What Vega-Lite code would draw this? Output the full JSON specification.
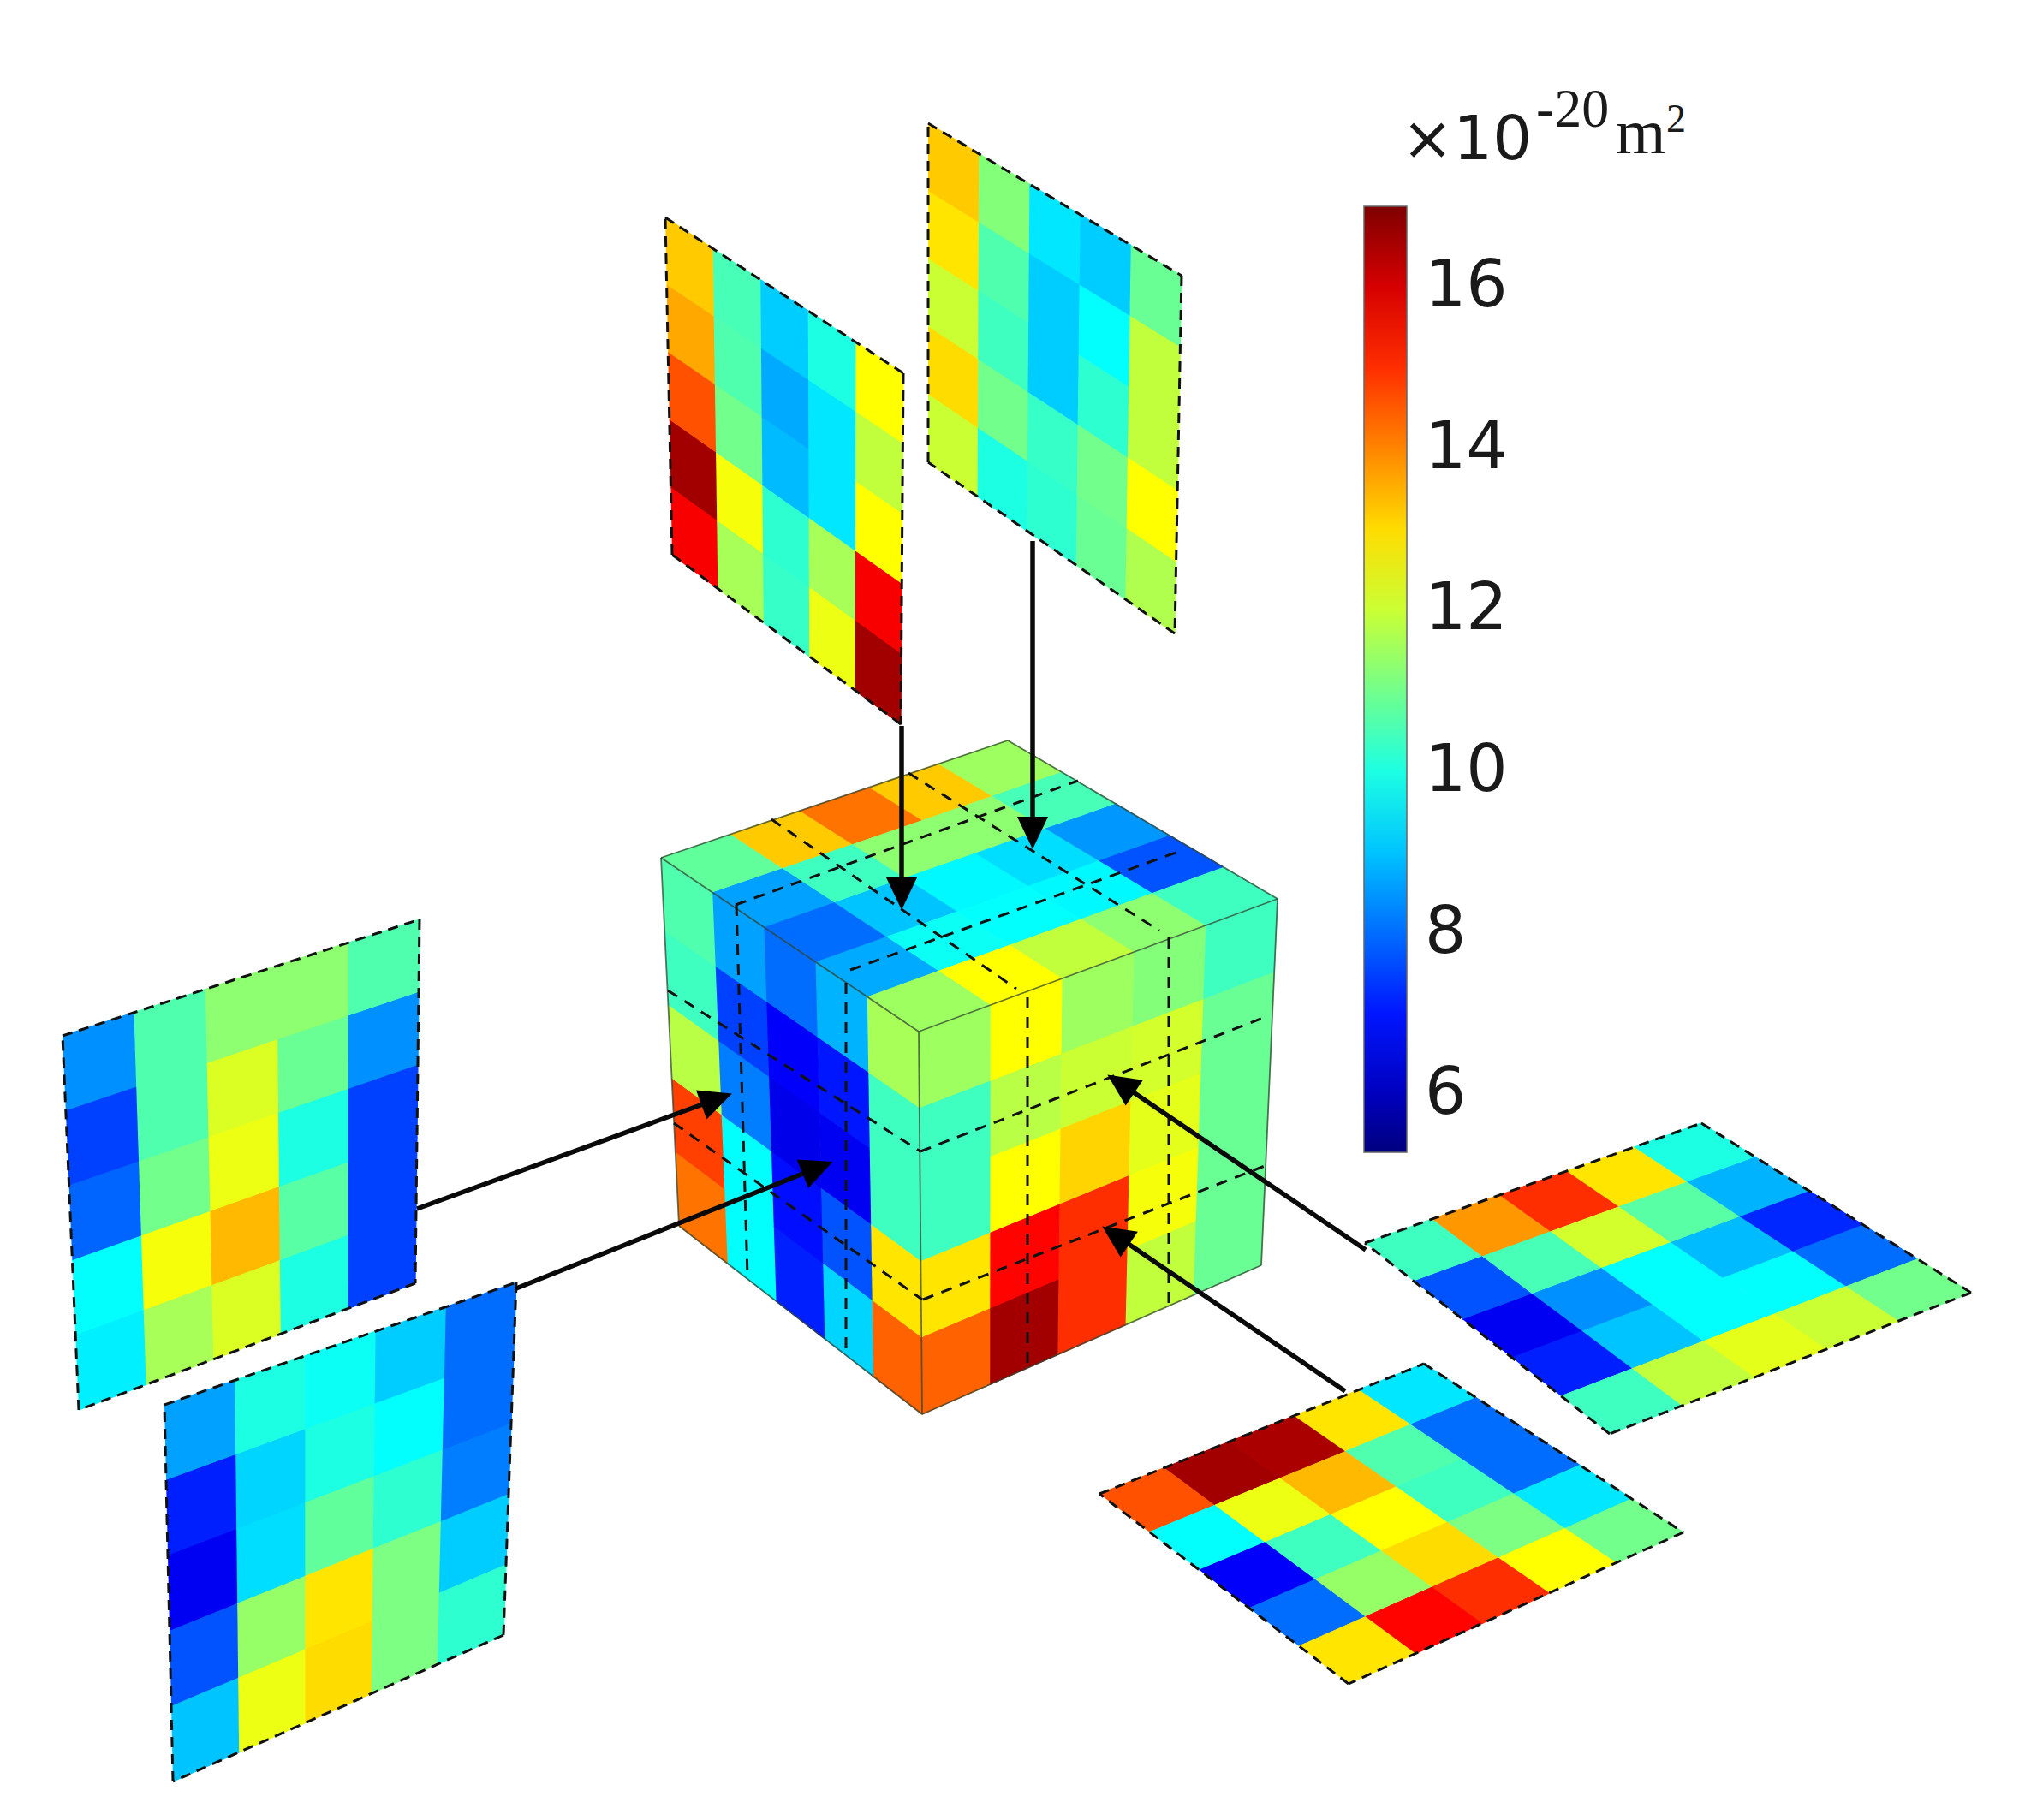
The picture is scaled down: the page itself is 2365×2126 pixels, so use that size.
{"$schema":"https://vega.github.io/schema/vega-lite/v6.json","width":2365,"height":2126,"padding":0,"autosize":{"type":"fit","contains":"padding"},"background":"white","config":{"view":{"stroke":null}},
"datasets":{
"panels":[
{"p":"T1","ax":777,"ay":254,"bx":1055,"by":436,"cx":1052,"cy":846,"dx":785,"dy":648},
{"p":"T2","ax":1084,"ay":144,"bx":1380,"by":322,"cx":1372,"cy":740,"dx":1084,"dy":540},
{"p":"L1","ax":73,"ay":1210,"bx":490,"by":1074,"cx":485,"cy":1499,"dx":92,"dy":1647},
{"p":"L2","ax":192,"ay":1641,"bx":603,"by":1498,"cx":588,"cy":1910,"dx":202,"dy":2081},
{"p":"R1","ax":1594,"ay":1452,"bx":1987,"by":1312,"cx":2302,"cy":1510,"dx":1880,"dy":1675},
{"p":"R2","ax":1284,"ay":1745,"bx":1663,"by":1593,"cx":1966,"cy":1790,"dx":1575,"dy":1967},
{"p":"CT","ax":772,"ay":1002,"bx":1177,"by":865,"cx":1492,"cy":1050,"dx":1073,"dy":1205},
{"p":"CL","ax":772,"ay":1002,"bx":1073,"by":1205,"cx":1077,"cy":1652,"dx":793,"dy":1432},
{"p":"CR","ax":1073,"ay":1205,"bx":1492,"by":1050,"cx":1473,"cy":1478,"dx":1077,"dy":1652}
],
"cells":[
{"p":"T1","i":0,"j":0,"v":13.2},{"p":"T1","i":0,"j":1,"v":13.6},{"p":"T1","i":0,"j":2,"v":14.6},{"p":"T1","i":0,"j":3,"v":16.6},{"p":"T1","i":0,"j":4,"v":15.6},
{"p":"T1","i":1,"j":0,"v":10.5},{"p":"T1","i":1,"j":1,"v":10.6},{"p":"T1","i":1,"j":2,"v":11},{"p":"T1","i":1,"j":3,"v":12.5},{"p":"T1","i":1,"j":4,"v":11.6},
{"p":"T1","i":2,"j":0,"v":9.1},{"p":"T1","i":2,"j":1,"v":8.7},{"p":"T1","i":2,"j":2,"v":8.9},{"p":"T1","i":2,"j":3,"v":10.2},{"p":"T1","i":2,"j":4,"v":10.3},
{"p":"T1","i":3,"j":0,"v":10},{"p":"T1","i":3,"j":1,"v":9.4},{"p":"T1","i":3,"j":2,"v":9.4},{"p":"T1","i":3,"j":3,"v":11.6},{"p":"T1","i":3,"j":4,"v":12.4},
{"p":"T1","i":4,"j":0,"v":12.6},{"p":"T1","i":4,"j":1,"v":11.9},{"p":"T1","i":4,"j":2,"v":12.6},{"p":"T1","i":4,"j":3,"v":15.6},{"p":"T1","i":4,"j":4,"v":16.6},
{"p":"T2","i":0,"j":0,"v":13.2},{"p":"T2","i":0,"j":1,"v":12.9},{"p":"T2","i":0,"j":2,"v":12},{"p":"T2","i":0,"j":3,"v":13},{"p":"T2","i":0,"j":4,"v":12},
{"p":"T2","i":1,"j":0,"v":11.2},{"p":"T2","i":1,"j":1,"v":10.6},{"p":"T2","i":1,"j":2,"v":10.4},{"p":"T2","i":1,"j":3,"v":11},{"p":"T2","i":1,"j":4,"v":10},
{"p":"T2","i":2,"j":0,"v":9.4},{"p":"T2","i":2,"j":1,"v":9.1},{"p":"T2","i":2,"j":2,"v":9.1},{"p":"T2","i":2,"j":3,"v":10.3},{"p":"T2","i":2,"j":4,"v":10.2},
{"p":"T2","i":3,"j":0,"v":9.1},{"p":"T2","i":3,"j":1,"v":9.7},{"p":"T2","i":3,"j":2,"v":10.2},{"p":"T2","i":3,"j":3,"v":11},{"p":"T2","i":3,"j":4,"v":10.9},
{"p":"T2","i":4,"j":0,"v":10.9},{"p":"T2","i":4,"j":1,"v":11.9},{"p":"T2","i":4,"j":2,"v":11.9},{"p":"T2","i":4,"j":3,"v":12.6},{"p":"T2","i":4,"j":4,"v":11.7},
{"p":"L1","i":0,"j":0,"v":8.4},{"p":"L1","i":0,"j":1,"v":7.5},{"p":"L1","i":0,"j":2,"v":7.9},{"p":"L1","i":0,"j":3,"v":9.7},{"p":"L1","i":0,"j":4,"v":9.5},
{"p":"L1","i":1,"j":0,"v":10.6},{"p":"L1","i":1,"j":1,"v":10.6},{"p":"L1","i":1,"j":2,"v":11},{"p":"L1","i":1,"j":3,"v":12.5},{"p":"L1","i":1,"j":4,"v":11.6},
{"p":"L1","i":2,"j":0,"v":11.3},{"p":"L1","i":2,"j":1,"v":12.2},{"p":"L1","i":2,"j":2,"v":12.4},{"p":"L1","i":2,"j":3,"v":13.4},{"p":"L1","i":2,"j":4,"v":12.2},
{"p":"L1","i":3,"j":0,"v":11.3},{"p":"L1","i":3,"j":1,"v":10.9},{"p":"L1","i":3,"j":2,"v":10},{"p":"L1","i":3,"j":3,"v":10.7},{"p":"L1","i":3,"j":4,"v":10},
{"p":"L1","i":4,"j":0,"v":10.6},{"p":"L1","i":4,"j":1,"v":8.4},{"p":"L1","i":4,"j":2,"v":7.5},{"p":"L1","i":4,"j":3,"v":7.5},{"p":"L1","i":4,"j":4,"v":7.5},
{"p":"L2","i":0,"j":0,"v":8.6},{"p":"L2","i":0,"j":1,"v":7.1},{"p":"L2","i":0,"j":2,"v":6.6},{"p":"L2","i":0,"j":3,"v":7.7},{"p":"L2","i":0,"j":4,"v":9},
{"p":"L2","i":1,"j":0,"v":10},{"p":"L2","i":1,"j":1,"v":9.2},{"p":"L2","i":1,"j":2,"v":9.3},{"p":"L2","i":1,"j":3,"v":11.4},{"p":"L2","i":1,"j":4,"v":12.4},
{"p":"L2","i":2,"j":0,"v":9.8},{"p":"L2","i":2,"j":1,"v":10},{"p":"L2","i":2,"j":2,"v":10.8},{"p":"L2","i":2,"j":3,"v":12.9},{"p":"L2","i":2,"j":4,"v":13},
{"p":"L2","i":3,"j":0,"v":9.1},{"p":"L2","i":3,"j":1,"v":9.7},{"p":"L2","i":3,"j":2,"v":10.2},{"p":"L2","i":3,"j":3,"v":11.1},{"p":"L2","i":3,"j":4,"v":11.1},
{"p":"L2","i":4,"j":0,"v":8},{"p":"L2","i":4,"j":1,"v":8},{"p":"L2","i":4,"j":2,"v":8.2},{"p":"L2","i":4,"j":3,"v":9.1},{"p":"L2","i":4,"j":4,"v":10.2},
{"p":"R1","i":0,"j":0,"v":10.4},{"p":"R1","i":1,"j":0,"v":13.8},{"p":"R1","i":2,"j":0,"v":15},{"p":"R1","i":3,"j":0,"v":12.9},{"p":"R1","i":4,"j":0,"v":10},
{"p":"R1","i":0,"j":1,"v":7.7},{"p":"R1","i":1,"j":1,"v":10.5},{"p":"R1","i":2,"j":1,"v":12.1},{"p":"R1","i":3,"j":1,"v":10.7},{"p":"R1","i":4,"j":1,"v":8.8},
{"p":"R1","i":0,"j":2,"v":6.6},{"p":"R1","i":1,"j":2,"v":8.4},{"p":"R1","i":2,"j":2,"v":9.7},{"p":"R1","i":3,"j":2,"v":8.9},{"p":"R1","i":4,"j":2,"v":7.2},
{"p":"R1","i":0,"j":3,"v":7.1},{"p":"R1","i":1,"j":3,"v":9},{"p":"R1","i":2,"j":3,"v":9.7},{"p":"R1","i":3,"j":3,"v":9.7},{"p":"R1","i":4,"j":3,"v":8},
{"p":"R1","i":0,"j":4,"v":10.4},{"p":"R1","i":1,"j":4,"v":11.9},{"p":"R1","i":2,"j":4,"v":12.3},{"p":"R1","i":3,"j":4,"v":12},{"p":"R1","i":4,"j":4,"v":11},
{"p":"R2","i":0,"j":0,"v":14.6},{"p":"R2","i":1,"j":0,"v":16.6},{"p":"R2","i":2,"j":0,"v":16.5},{"p":"R2","i":3,"j":0,"v":12.9},{"p":"R2","i":4,"j":0,"v":9.4},
{"p":"R2","i":0,"j":1,"v":9.7},{"p":"R2","i":1,"j":1,"v":12.4},{"p":"R2","i":2,"j":1,"v":13.4},{"p":"R2","i":3,"j":1,"v":10.6},{"p":"R2","i":4,"j":1,"v":8},
{"p":"R2","i":0,"j":2,"v":6.7},{"p":"R2","i":1,"j":2,"v":10.4},{"p":"R2","i":2,"j":2,"v":12.6},{"p":"R2","i":3,"j":2,"v":10.4},{"p":"R2","i":4,"j":2,"v":8},
{"p":"R2","i":0,"j":3,"v":8},{"p":"R2","i":1,"j":3,"v":11.4},{"p":"R2","i":2,"j":3,"v":13},{"p":"R2","i":3,"j":3,"v":11.1},{"p":"R2","i":4,"j":3,"v":9.4},
{"p":"R2","i":0,"j":4,"v":12.9},{"p":"R2","i":1,"j":4,"v":15.5},{"p":"R2","i":2,"j":4,"v":15},{"p":"R2","i":3,"j":4,"v":12.6},{"p":"R2","i":4,"j":4,"v":11},
{"p":"CT","i":0,"j":0,"v":10.8},{"p":"CT","i":1,"j":0,"v":13.2},{"p":"CT","i":2,"j":0,"v":14.2},{"p":"CT","i":3,"j":0,"v":13.2},{"p":"CT","i":4,"j":0,"v":11.5},
{"p":"CT","i":0,"j":1,"v":8.6},{"p":"CT","i":1,"j":1,"v":10.4},{"p":"CT","i":2,"j":1,"v":11.3},{"p":"CT","i":3,"j":1,"v":11.3},{"p":"CT","i":4,"j":1,"v":10.5},
{"p":"CT","i":0,"j":2,"v":8},{"p":"CT","i":1,"j":2,"v":9},{"p":"CT","i":2,"j":2,"v":9.6},{"p":"CT","i":3,"j":2,"v":9.3},{"p":"CT","i":4,"j":2,"v":8.5},
{"p":"CT","i":0,"j":3,"v":8.7},{"p":"CT","i":1,"j":3,"v":9.8},{"p":"CT","i":2,"j":3,"v":9.7},{"p":"CT","i":3,"j":3,"v":9.6},{"p":"CT","i":4,"j":3,"v":7.7},
{"p":"CT","i":0,"j":4,"v":11.5},{"p":"CT","i":1,"j":4,"v":12.6},{"p":"CT","i":2,"j":4,"v":11.9},{"p":"CT","i":3,"j":4,"v":11.3},{"p":"CT","i":4,"j":4,"v":10.4},
{"p":"CL","i":0,"j":0,"v":10.6},{"p":"CL","i":0,"j":1,"v":10.4},{"p":"CL","i":0,"j":2,"v":11.8},{"p":"CL","i":0,"j":3,"v":14.8},{"p":"CL","i":0,"j":4,"v":14.2},
{"p":"CL","i":1,"j":0,"v":8.6},{"p":"CL","i":1,"j":1,"v":7.5},{"p":"CL","i":1,"j":2,"v":8.2},{"p":"CL","i":1,"j":3,"v":9.7},{"p":"CL","i":1,"j":4,"v":9.7},
{"p":"CL","i":2,"j":0,"v":8},{"p":"CL","i":2,"j":1,"v":6.7},{"p":"CL","i":2,"j":2,"v":6.5},{"p":"CL","i":2,"j":3,"v":6.9},{"p":"CL","i":2,"j":4,"v":7.1},
{"p":"CL","i":3,"j":0,"v":8.8},{"p":"CL","i":3,"j":1,"v":7},{"p":"CL","i":3,"j":2,"v":6.6},{"p":"CL","i":3,"j":3,"v":7.7},{"p":"CL","i":3,"j":4,"v":9.2},
{"p":"CL","i":4,"j":0,"v":11.6},{"p":"CL","i":4,"j":1,"v":10.4},{"p":"CL","i":4,"j":2,"v":10.4},{"p":"CL","i":4,"j":3,"v":12.9},{"p":"CL","i":4,"j":4,"v":14.4},
{"p":"CR","i":0,"j":0,"v":11.5},{"p":"CR","i":0,"j":1,"v":10.4},{"p":"CR","i":0,"j":2,"v":10.4},{"p":"CR","i":0,"j":3,"v":12.9},{"p":"CR","i":0,"j":4,"v":14.4},
{"p":"CR","i":1,"j":0,"v":12.6},{"p":"CR","i":1,"j":1,"v":11.8},{"p":"CR","i":1,"j":2,"v":12.6},{"p":"CR","i":1,"j":3,"v":15.5},{"p":"CR","i":1,"j":4,"v":16.6},
{"p":"CR","i":2,"j":0,"v":11.5},{"p":"CR","i":2,"j":1,"v":12},{"p":"CR","i":2,"j":2,"v":13.1},{"p":"CR","i":2,"j":3,"v":15},{"p":"CR","i":2,"j":4,"v":15},
{"p":"CR","i":3,"j":0,"v":11.2},{"p":"CR","i":3,"j":1,"v":12.1},{"p":"CR","i":3,"j":2,"v":12.3},{"p":"CR","i":3,"j":3,"v":12.5},{"p":"CR","i":3,"j":4,"v":11.9},
{"p":"CR","i":4,"j":0,"v":10.4},{"p":"CR","i":4,"j":1,"v":10.9},{"p":"CR","i":4,"j":2,"v":10.9},{"p":"CR","i":4,"j":3,"v":10.9},{"p":"CR","i":4,"j":4,"v":10.9}
]},
"encoding":{"x":{"field":"x","type":"quantitative","scale":{"domain":[0,2365],"nice":false,"zero":false},"axis":null},"y":{"field":"y","type":"quantitative","scale":{"domain":[0,2126],"nice":false,"zero":false,"reverse":true},"axis":null}},
"layer":[
{"data":{"name":"cells"},
"transform":[
{"lookup":"p","from":{"data":{"name":"panels"},"key":"p","fields":["ax","ay","bx","by","cx","cy","dx","dy"]}},
{"calculate":"[0,1,2,3]","as":"k"},{"flatten":["k"]},
{"calculate":"datum.p+'-'+datum.i+'-'+datum.j","as":"cell"},
{"calculate":"(datum.i+((datum.k==1||datum.k==2)?1:0))/5","as":"s"},
{"calculate":"(datum.j+(datum.k>=2?1:0))/5","as":"t"},
{"calculate":"(1-datum.s)*(1-datum.t)*datum.ax+datum.s*(1-datum.t)*datum.bx+datum.s*datum.t*datum.cx+(1-datum.s)*datum.t*datum.dx","as":"x"},
{"calculate":"(1-datum.s)*(1-datum.t)*datum.ay+datum.s*(1-datum.t)*datum.by+datum.s*datum.t*datum.cy+(1-datum.s)*datum.t*datum.dy","as":"y"}
],
"encoding":{"detail":{"field":"cell","type":"nominal"},"order":{"field":"k","type":"quantitative"}},
"layer":[
{"mark":{"type":"line","strokeWidth":1.2,"fillOpacity":0},
"encoding":{"stroke":{"field":"v","type":"quantitative","scale":{"domain":[5.2801,6.745,8.21,9.675,11.14,12.605,14.07,15.535,17],"range":["#00007f","#0000ff","#007fff","#00ffff","#7fff7f","#ffff00","#ff7f00","#ff0000","#7f0000"],"interpolate":"rgb"},
"legend":{"orient":"none","legendX":1593,"legendY":241,"direction":"vertical","title":null,"format":"d","gradientLength":1105,"gradientThickness":50,"gradientStrokeColor":"#666","gradientStrokeWidth":1.5,"values":[6,8,10,12,14,16],"labelFont":"DejaVu Sans","labelFontSize":76,"labelColor":"#1a1a1a","labelOffset":21,"labelOverlap":false,"labelBaseline":"middle","encoding":{"labels":{"update":{"dy":{"value":4}}}}}}}},
{"mark":{"type":"line","strokeWidth":0},
"encoding":{"fill":{"field":"v","type":"quantitative","scale":{"domain":[5.28,6.745,8.21,9.675,11.14,12.605,14.07,15.535,17],"range":["#00007f","#0000ff","#007fff","#00ffff","#7fff7f","#ffff00","#ff7f00","#ff0000","#7f0000"],"interpolate":"rgb"},"legend":null}}}
]},
{"data":{"values":[{"x":772,"y":1002,"x2":1073,"y2":1205},{"x":1073,"y":1205,"x2":1492,"y2":1050},{"x":1073,"y":1205,"x2":1077,"y2":1652},{"x":772,"y":1002,"x2":793,"y2":1432},{"x":793,"y":1432,"x2":1077,"y2":1652},{"x":1077,"y":1652,"x2":1473,"y2":1478},{"x":1473,"y":1478,"x2":1492,"y2":1050},{"x":772,"y":1002,"x2":1177,"y2":865},{"x":1177,"y":865,"x2":1492,"y2":1050}]},
"mark":{"type":"rule","color":"#334433","strokeWidth":1.8,"opacity":0.75},
"encoding":{"x2":{"field":"x2"},"y2":{"field":"y2"}}},
{"data":{"values":[{"x":901,"y":957,"x2":1187,"y2":1155},{"x":1061,"y":903,"x2":1354,"y2":1087},{"x":859,"y":1057,"x2":1259,"y2":912},{"x":993,"y":1133,"x2":1376,"y2":995},{"x":860,"y":1057,"x2":873,"y2":1491},{"x":988,"y":1148,"x2":988,"y2":1577},{"x":1200,"y":1165,"x2":1200,"y2":1596},{"x":1365,"y":1095,"x2":1365,"y2":1529},{"x":780,"y":1157,"x2":1075,"y2":1345},{"x":787,"y":1312,"x2":1077,"y2":1518},{"x":1075,"y":1345,"x2":1480,"y2":1187},{"x":1078,"y":1518,"x2":1477,"y2":1362}]},
"mark":{"type":"rule","color":"#111","strokeWidth":3,"strokeDash":[13,10]},
"encoding":{"x2":{"field":"x2"},"y2":{"field":"y2"}}},
{"data":{"values":[{"x":777,"y":254,"x2":1055,"y2":436},{"x":1055,"y":436,"x2":1052,"y2":846},{"x":1052,"y":846,"x2":785,"y2":648},{"x":785,"y":648,"x2":777,"y2":254},
{"x":1084,"y":144,"x2":1380,"y2":322},{"x":1380,"y":322,"x2":1372,"y2":740},{"x":1372,"y":740,"x2":1084,"y2":540},{"x":1084,"y":540,"x2":1084,"y2":144},
{"x":73,"y":1210,"x2":490,"y2":1074},{"x":490,"y":1074,"x2":485,"y2":1499},{"x":485,"y":1499,"x2":92,"y2":1647},{"x":92,"y":1647,"x2":73,"y2":1210},
{"x":192,"y":1641,"x2":603,"y2":1498},{"x":603,"y":1498,"x2":588,"y2":1910},{"x":588,"y":1910,"x2":202,"y2":2081},{"x":202,"y":2081,"x2":192,"y2":1641},
{"x":1594,"y":1452,"x2":1987,"y2":1312},{"x":1987,"y":1312,"x2":2302,"y2":1510},{"x":2302,"y":1510,"x2":1880,"y2":1675},{"x":1880,"y":1675,"x2":1594,"y2":1452},
{"x":1284,"y":1745,"x2":1663,"y2":1593},{"x":1663,"y":1593,"x2":1966,"y2":1790},{"x":1966,"y":1790,"x2":1575,"y2":1967},{"x":1575,"y":1967,"x2":1284,"y2":1745}]},
"mark":{"type":"rule","color":"#111","strokeWidth":3,"strokeDash":[12,8]},
"encoding":{"x2":{"field":"x2"},"y2":{"field":"y2"}}},
{"data":{"values":[{"x":1053,"y":848,"x2":1053,"y2":1044},{"x":1206,"y":632,"x2":1206,"y2":973},{"x":487,"y":1412,"x2":837,"y2":1284},{"x":603,"y":1505,"x2":955,"y2":1364},{"x":1595,"y":1460,"x2":1309,"y2":1266},{"x":1571,"y":1625,"x2":1303,"y2":1443}]},
"mark":{"type":"rule","color":"#0a0a0a","strokeWidth":5.5},
"encoding":{"x2":{"field":"x2"},"y2":{"field":"y2"}}},
{"data":{"values":[{"x":1053,"y":1044,"a":180},{"x":1206,"y":973,"a":180},{"x":837,"y":1284,"a":70},{"x":955,"y":1364,"a":68},{"x":1309,"y":1266,"a":-56},{"x":1303,"y":1443,"a":-56}]},
"mark":{"type":"point","filled":true,"opacity":1,"color":"#000","shape":"M0,-1L-0.95,1L0.95,1Z","size":1444},
"encoding":{"angle":{"field":"a","type":"quantitative","scale":null}}},
{"data":{"values":[{"x":1593,"y":523,"x2":1600},{"x":1636,"y":523,"x2":1643},{"x":1593,"y":714,"x2":1600},{"x":1636,"y":714,"x2":1643},{"x":1593,"y":901,"x2":1600},{"x":1636,"y":901,"x2":1643},{"x":1593,"y":1092,"x2":1600},{"x":1636,"y":1092,"x2":1643},{"x":1593,"y":336,"x2":1600},{"x":1636,"y":336,"x2":1643}]},
"mark":{"type":"rule","color":"#222","strokeWidth":2},
"encoding":{"x2":{"field":"x2"}}},
{"data":{"values":[{"x":1637,"y":186,"t":"×10"}]},"mark":{"type":"text","align":"left","baseline":"alphabetic","font":"DejaVu Sans","fontSize":72,"color":"#1a1a1a"},"encoding":{"text":{"field":"t"}}},
{"data":{"values":[{"x":1794,"y":148,"t":"-20"}]},"mark":{"type":"text","align":"left","baseline":"alphabetic","font":"Liberation Serif","fontSize":64,"color":"#1a1a1a"},"encoding":{"text":{"field":"t"}}},
{"data":{"values":[{"x":1887,"y":179,"t":"m"}]},"mark":{"type":"text","align":"left","baseline":"alphabetic","font":"Liberation Serif","fontSize":75,"color":"#1a1a1a"},"encoding":{"text":{"field":"t"}}},
{"data":{"values":[{"x":1946,"y":154,"t":"2"}]},"mark":{"type":"text","align":"left","baseline":"alphabetic","font":"Liberation Serif","fontSize":46,"color":"#1a1a1a"},"encoding":{"text":{"field":"t"}}}
]}
